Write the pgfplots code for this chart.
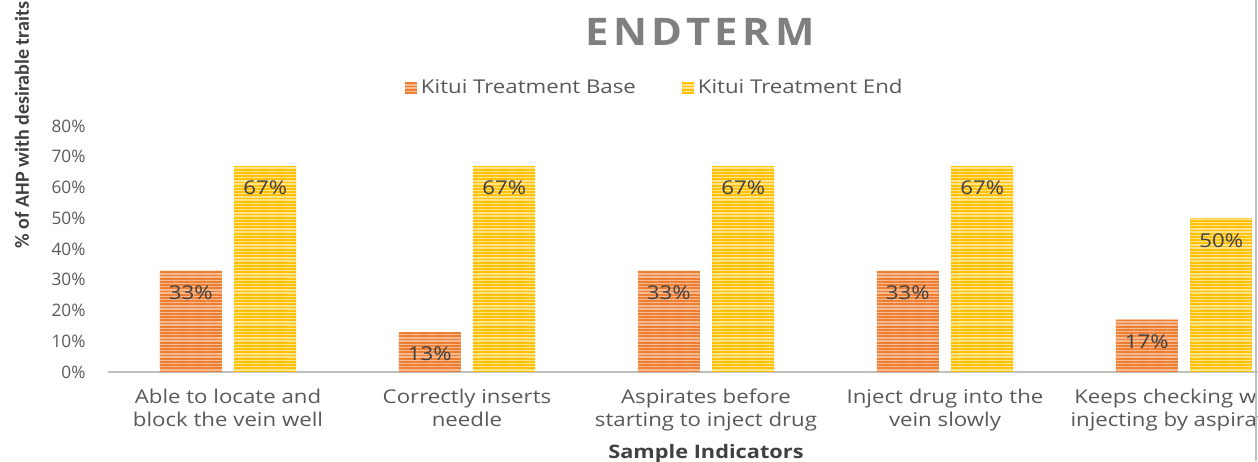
\documentclass[border=0pt]{standalone}
\usepackage{fontspec}
\setmainfont{Open Sans}
\newfontfamily\titlefont{Open Sans}[LetterSpace=12,FakeStretch=1.1]
\newfontfamily\widefont{Open Sans}[FakeStretch=1.17]
\newfontfamily\ylabfont{Carlito}
\usepackage{pgfplots}
\pgfplotsset{compat=1.18}
\usetikzlibrary{patterns.meta}
\definecolor{cbase}{HTML}{ED7D31}
\definecolor{cbaselight}{HTML}{F6B990}
\definecolor{cend}{HTML}{FFC000}
\definecolor{cendlight}{HTML}{FFE38A}
\definecolor{txt}{HTML}{595959}
\definecolor{lbl}{HTML}{404040}
\definecolor{ttl}{HTML}{7F7F7F}
\definecolor{axl}{HTML}{BFBFBF}
\begin{document}
\begin{tikzpicture}
\useasboundingbox (-54.25pt,-44.5pt) rectangle (574.75pt,186pt);
\begin{scope}
\clip (-54.25pt,-44.5pt) rectangle (574.75pt,186pt);
\begin{axis}[
  scale only axis, width=597.5pt, height=123pt,
  at={(0pt,0pt)}, anchor=south west,
  ybar, bar width=31pt,
  xmin=-0.5, xmax=4.5, ymin=0, ymax=80,
  xtick={0,1,2,3,4},
  xticklabels={{Able to locate and\\block the vein well},{Correctly inserts\\needle},{Aspirates before\\starting to inject drug},{Inject drug into the\\vein slowly},{Keeps checking while\\injecting by aspiration}},
  xticklabel style={align=center, font=\widefont\fontsize{9.5}{11.5}\selectfont, text=txt, yshift=-5pt},
  ytick={0,10,...,80},
  yticklabel={\pgfmathprintnumber{\tick}\%},
  /pgf/number format/assume math mode=true,
  yticklabel style={font=\fontsize{8.6}{10}\selectfont, text=txt, xshift=-8pt},
  axis x line*=bottom, axis y line*=left,
  x axis line style={draw=axl, line width=1pt},
  y axis line style={draw=none},
  major tick length=0pt,
  tick style={draw=none},
  title={\titlefont\fontsize{19}{21}\selectfont\bfseries ENDTERM},
  title style={at={(axis description cs:0.495,1.333)}, anchor=center, text=ttl},
  xlabel={\widefont\bfseries Sample Indicators},
  xlabel style={at={(axis description cs:0.5,-0.33)}, anchor=center, font=\fontsize{9.3}{11.5}\selectfont, text=lbl},
  ylabel={\ylabfont\bfseries \% of AHP with desirable traits},
  ylabel style={at={(axis description cs:-0.0724,1.004)}, anchor=center, font=\fontsize{10}{12}\selectfont, text=lbl},
  legend columns=2,
  legend style={at={(axis description cs:0.458,1.155)}, anchor=center, draw=none, fill=none,
    font=\widefont\fontsize{9.5}{11.5}\selectfont, text=txt,
    /tikz/every even column/.append style={column sep=21pt}},
  legend image code/.code={\fill[#1] (0pt,-3pt) rectangle (6pt,3pt);},
  nodes near coords={\pgfmathprintnumber{\pgfplotspointmeta}\%},
  every node near coord/.append style={anchor=north, yshift=-4pt, font=\widefont\fontsize{9.5}{11.5}\selectfont, text=lbl},
]
\addplot[draw=none, fill=cbaselight, postaction={pattern={Lines[angle=0,distance=1.6pt,line width=0.9pt]}, pattern color=cbase}, bar shift=-18.6pt]
  coordinates {(0,33) (1,13) (2,33) (3,33) (4,17)};
\addplot[draw=none, fill=cendlight, postaction={pattern={Lines[angle=0,distance=1.6pt,line width=0.9pt]}, pattern color=cend}, bar shift=18.6pt]
  coordinates {(0,67) (1,67) (2,67) (3,67) (4,50)};
\legend{Kitui Treatment Base, Kitui Treatment End}
\end{axis}
\draw[axl, line width=0.8pt] (573.75pt,-44.5pt) -- (573.75pt,186pt);
\end{scope}
\end{tikzpicture}
\end{document}
